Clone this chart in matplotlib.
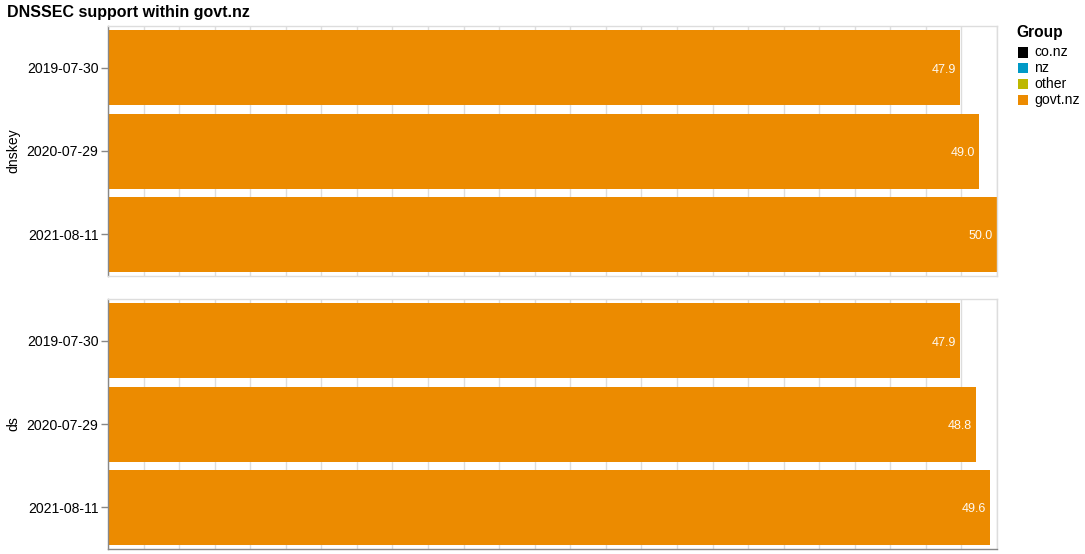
import matplotlib
matplotlib.use("Agg")
import matplotlib.pyplot as plt
from matplotlib.patches import Rectangle

# ---- data ----
dates = ["2019-07-30", "2020-07-29", "2021-08-11"]
dnskey_values = [47.9, 49.0, 50.0]
ds_values = [47.9, 48.8, 49.6]
facets = ["dnskey", "ds"]
legend_groups = ["co.nz", "nz", "other", "govt.nz"]
legend_colors = ["#000000", "#0099c6", "#bdb800", "#ec8b00"]
bar_color = "#ec8b00"
title = "DNSSEC support within govt.nz"

W, H = 1085, 554
DPI = 100
PX = 72.0 / DPI  # points per pixel

plt.rcParams["font.family"] = ["Liberation Sans", "DejaVu Sans"]

fig = plt.figure(figsize=(W / DPI, H / DPI), dpi=DPI)

left_px, right_px = 108, 997
panels = [(26, 276), (299, 549)]
series = [dnskey_values, ds_values]

for i, ((top, bot), vals, fname) in enumerate(zip(panels, series, facets)):
    ax = fig.add_axes([left_px / W, (H - bot) / H, (right_px - left_px) / W, (bot - top) / H])
    ypos = list(range(len(dates)))
    ax.barh(ypos, vals, height=0.9, color=bar_color, zorder=2)
    ax.set_xlim(0, 50)
    ax.set_ylim(len(dates) - 0.5, -0.5)
    ax.set_xticks(range(0, 51, 2))
    ax.set_xticklabels([])
    ax.tick_params(axis="x", length=0)
    ax.grid(axis="x", color="#dddddd", linewidth=1, zorder=0)
    ax.set_axisbelow(True)
    ax.set_yticks(ypos)
    ax.set_yticklabels(dates, fontsize=14 * PX)
    ax.tick_params(axis="y", length=5, width=1, color="#888888", pad=2)
    for s in ["top", "right"]:
        ax.spines[s].set_color("#dddddd")
        ax.spines[s].set_linewidth(1)
    ax.spines["left"].set_color("#888888")
    ax.spines["left"].set_linewidth(1)
    ax.spines["bottom"].set_color("#888888" if i == len(panels) - 1 else "#dddddd")
    ax.spines["bottom"].set_linewidth(1)
    for y, v in zip(ypos, vals):
        ax.annotate(f"{v:.1f}", xy=(v, y), xytext=(-4 * PX, -2 * PX), textcoords="offset points",
                    ha="right", va="center", color="white", fontsize=12.5 * PX, alpha=0.95, zorder=3)
    fig.text(13 / W, 1 - ((top + bot) / 2) / H, fname, rotation=90, ha="center", va="center",
             fontsize=14 * PX)

fig.text(7 / W, 1 - 13 / H, title, ha="left", va="center", fontsize=16 * PX, fontweight="bold")

# legend
fig.text(1016 / W, 1 - 33 / H, "Group", ha="left", va="center", fontsize=15.5 * PX, fontweight="bold")
for k, (g, c) in enumerate(zip(legend_groups, legend_colors)):
    yc = 52.5 + k * 15.8
    fig.patches.append(Rectangle((1018 / W, 1 - (yc + 5) / H), 10 / W, 10 / H,
                                 transform=fig.transFigure, facecolor=c, edgecolor="none"))
    fig.text(1034 / W, 1 - yc / H, g, ha="left", va="center", fontsize=14 * PX)

fig.savefig("out.png", dpi=DPI)
